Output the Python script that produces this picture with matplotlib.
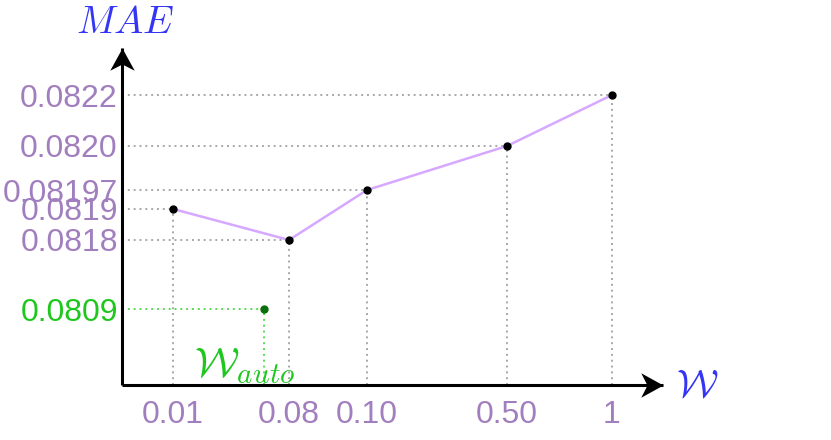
import matplotlib
matplotlib.use("Agg")
import matplotlib.pyplot as plt
from matplotlib.path import Path
import numpy as np

# --- data ---
w_values = [0.01, 0.08, 0.10, 0.50, 1.0]
w_labels = ["0.01", "0.08", "0.10", "0.50", "1"]
mae_values = [0.0819, 0.0818, 0.08197, 0.0820, 0.0822]
mae_labels = ["0.0819", "0.0818", "0.08197", "0.0820", "0.0822"]
w_auto = 0.065
mae_auto = 0.0809
mae_auto_label = "0.0809"

# --- schematic (non linear) axis scales: value -> fraction of the axis ---
x_anchor_vals = [0.0, 0.01, 0.08, 0.10, 0.50, 1.0, 1.2]
x_anchor_frac = [0.0, 0.0943, 0.3087, 0.4529, 0.7116, 0.9057, 1.0]
y_anchor_vals = [0.0805, 0.0809, 0.0818, 0.0819, 0.08197, 0.0820, 0.0822, 0.0824]
y_anchor_frac = [0.0, 0.2255, 0.4303, 0.5223, 0.5786, 0.7092, 0.8605, 1.0]


def make_scale(vals, fracs):
    vals = np.asarray(vals, float)
    fracs = np.asarray(fracs, float)
    fwd = lambda v: np.interp(v, vals, fracs)
    inv = lambda f: np.interp(f, fracs, vals)
    return fwd, inv


plt.rcParams["mathtext.fontset"] = "cm"
plt.rcParams["font.family"] = ["Liberation Sans", "DejaVu Sans"]

purple = "#a17fbe"
green = "#1ec71e"
grid_gray = "#a8a8a8"

fig = plt.figure(figsize=(8.31, 4.40), dpi=100)
W, H = 831, 440
ax = fig.add_axes([122 / W, (H - 385) / H, (663 - 122) / W, (385 - 48) / H])
ax.set_xscale("function", functions=make_scale(x_anchor_vals, x_anchor_frac))
ax.set_yscale("function", functions=make_scale(y_anchor_vals, y_anchor_frac))
ax.set_xlim(x_anchor_vals[0], x_anchor_vals[-1])
ax.set_ylim(y_anchor_vals[0], y_anchor_vals[-1])
ax.patch.set_visible(False)
for s in ax.spines.values():
    s.set_visible(False)

x0, y0 = x_anchor_vals[0], y_anchor_vals[0]
x1, y1 = x_anchor_vals[-1], y_anchor_vals[-1]

# dotted guide lines
dots = (0, (1, 2))
ax.hlines(mae_values, x0, w_values, colors=grid_gray, linestyles=dots, lw=1.4, zorder=1)
ax.vlines(w_values, y0, mae_values, colors=grid_gray, linestyles=dots, lw=1.4, zorder=1)
ax.hlines([mae_auto], x0, [w_auto], colors="#55dd55", linestyles=dots, lw=1.4, zorder=1)
ax.vlines([w_auto], y0, [mae_auto], colors="#55dd55", linestyles=dots, lw=1.4, zorder=1)

# main curve
ax.plot(w_values, mae_values, color="#d6a8ff", lw=1.8, zorder=2)
ax.plot(w_values, mae_values, "o", color="black", ms=5, zorder=3)
ax.plot([w_auto], [mae_auto], "o", color="#0b6e0b", ms=5, zorder=3)

# ticks
ax.set_yticks(mae_values + [mae_auto], mae_labels + [mae_auto_label])
ax.set_xticks(w_values, w_labels)
ax.minorticks_off()
ax.tick_params(axis="both", length=0, labelsize=23)
ax.tick_params(axis="y", pad=3)
ax.tick_params(axis="x", pad=11)
for lab in ax.get_yticklabels():
    lab.set_color(green if lab.get_text() == mae_auto_label else purple)
for lab in ax.get_xticklabels():
    lab.set_color(purple)

# axis lines with stealth arrow heads
ax.plot([x0, x1], [y0, y0], color="black", lw=2.2, clip_on=False, solid_capstyle="butt", zorder=4)
ax.plot([x0, x0], [y0, y1], color="black", lw=2.2, clip_on=False, solid_capstyle="butt", zorder=4)
head_right = Path([(0, 0), (-1, 0.55), (-0.72, 0), (-1, -0.55), (0, 0)],
                  [Path.MOVETO, Path.LINETO, Path.LINETO, Path.LINETO, Path.CLOSEPOLY])
head_up = Path([(0, 0), (0.55, -1), (0, -0.72), (-0.55, -1), (0, 0)],
               [Path.MOVETO, Path.LINETO, Path.LINETO, Path.LINETO, Path.CLOSEPOLY])
ax.plot([x1], [y0], marker=head_right, ms=32, color="black", mew=0, clip_on=False, zorder=5)
ax.plot([x0], [y1], marker=head_up, ms=32, color="black", mew=0, clip_on=False, zorder=5)

# axis titles
fig.text(125 / W, 1 - 23 / H, r"$MAE$", color="#3535f5", fontsize=28, ha="center", va="center")
fig.text(697 / W, 1 - 386 / H, r"$\mathcal{W}$", color="#3535f5", fontsize=28, ha="center", va="center")
fig.text(245 / W, 1 - 366 / H, r"$\mathcal{W}_{auto}$", color=green, fontsize=30, ha="center", va="center")

fig.savefig("out.png", dpi=100)
